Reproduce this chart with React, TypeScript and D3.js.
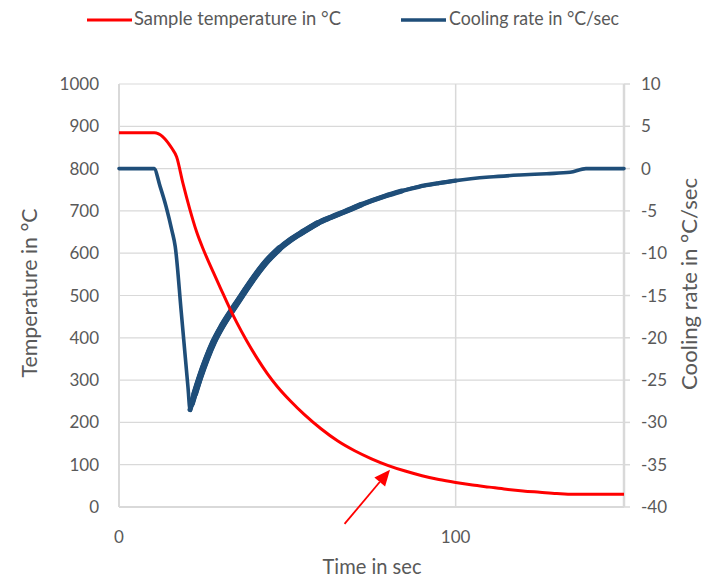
import React from "react";
import * as d3 from "d3";

// ---- data ----
const tempTime = [0, 10.5, 15.7, 17.1, 19, 21, 23, 25, 28, 30, 33, 35, 38, 41, 44, 47, 51, 55, 60, 65, 70, 75, 80, 85, 90, 95, 100, 105, 110, 115, 120, 125, 130, 135, 150];
const tempValues = [885, 885, 848, 828, 765, 705, 652, 610, 555, 520, 468, 436, 392, 352, 316, 285, 250, 219, 185, 156, 133, 114, 98, 85, 74, 65, 58, 52, 47, 42, 38, 35, 32, 30, 30];

const rateTime = [0, 10.4, 12.2, 14, 15.7, 16.7, 18.5, 20.5, 21.1, 21.6, 22.5, 24.1, 26, 28.1, 30.5, 33, 35.5, 38, 41, 44, 47.5, 51, 55, 59, 63, 67, 72, 79, 84, 89, 95, 100, 110, 119, 127, 134, 138.7, 150];
const rateValues = [0, 0, -2.1, -4.5, -7.3, -9.2, -17, -25.9, -28.5, -27.8, -26.6, -24.6, -22.5, -20.5, -18.7, -17.1, -15.6, -14.1, -12.4, -10.9, -9.5, -8.4, -7.4, -6.45, -5.75, -5.1, -4.25, -3.25, -2.65, -2.15, -1.72, -1.42, -1.0, -0.76, -0.6, -0.44, 0, 0];

const tempTicks = [0, 100, 200, 300, 400, 500, 600, 700, 800, 900, 1000];
const rateTicks = [-40, -35, -30, -25, -20, -15, -10, -5, 0, 5, 10];
const timeTicks = [0, 100];

const seriesNames = ["Sample temperature in °C", "Cooling rate in °C/sec"];
const axisTitles = { x: "Time in sec", yLeft: "Temperature in °C", yRight: "Cooling rate in °C/sec" };

// annotation arrow in data units (time, temperature)
const arrowFrom = [67, -40];
const arrowTo = [80.5, 88];

const RED = "#ff0000";
const BLUE = "#1f4e79";
const GRID = "#d9d9d9";
const TEXT = "#595959";
const FONT = "Lato, 'Open Sans', sans-serif";

// stroke thickness bands of the cooling-rate line (time from, time to, width)
const rateBands: [number, number, number][] = [
  [21.1, 100, 4.3],
  [21.1, 85, 5],
  [21.3, 72, 5.6],
  [21.6, 60, 6.2],
  [22.5, 48, 6.8],
];

export default function App() {
  const W = 708, H = 577;
  const x = d3.scaleLinear().domain([0, 150]).range([119, 624]);
  const yL = d3.scaleLinear().domain([0, 1000]).range([507, 84]);
  const yR = d3.scaleLinear().domain([-40, 10]).range([507, 84]);

  const tempData = tempTime.map((t, i) => [t, tempValues[i]] as [number, number]);
  const rateData = rateTime.map((t, i) => [t, rateValues[i]] as [number, number]);

  const tempLine = d3.line<[number, number]>().x(d => x(d[0])).y(d => yL(d[1])).curve(d3.curveMonotoneX);
  const rateLine = d3.line<[number, number]>().x(d => x(d[0])).y(d => yR(d[1])).curve(d3.curveMonotoneX);

  const ax0 = x(arrowFrom[0]), ay0 = yL(arrowFrom[1]);
  const ax1 = x(arrowTo[0]), ay1 = yL(arrowTo[1]);
  const ang = Math.atan2(ay1 - ay0, ax1 - ax0);
  const hl = 16, hw = 7;
  const bx = ax1 - hl * Math.cos(ang), by = ay1 - hl * Math.sin(ang);
  const head = [
    [ax1, ay1],
    [bx + hw * Math.sin(ang), by - hw * Math.cos(ang)],
    [bx - hw * Math.sin(ang), by + hw * Math.cos(ang)],
  ];

  return (
    <svg width={W} height={H} style={{ position: "absolute", left: 0, top: 0, background: "#fff" }} fontFamily={FONT}>
      <rect width={W} height={H} fill="#fff" />
      {/* horizontal gridlines */}
      {tempTicks.map(v => (
        <line key={"g" + v} x1={x(0)} x2={x(150)} y1={yL(v)} y2={yL(v)} stroke={GRID} strokeWidth={1.2} />
      ))}
      {/* vertical gridlines */}
      {timeTicks.filter(v => v > 0).map(v => (
        <line key={"vg" + v} x1={x(v)} x2={x(v)} y1={yL(1000)} y2={yL(0)} stroke={GRID} strokeWidth={1.5} />
      ))}
      {/* axes lines */}
      <line x1={x(0)} x2={x(0)} y1={yL(1000)} y2={yL(0)} stroke={GRID} strokeWidth={2} />
      <line x1={x(0)} x2={x(150)} y1={yL(0)} y2={yL(0)} stroke={GRID} strokeWidth={2} />
      <line x1={x(150)} x2={x(150)} y1={yR(10)} y2={yR(-40)} stroke={GRID} strokeWidth={2.5} />
      {rateTicks.map(v => (
        <line key={"rt" + v} x1={x(150)} x2={x(150) + 6} y1={yR(v)} y2={yR(v)} stroke={GRID} strokeWidth={1.5} />
      ))}

      {/* left tick labels */}
      {tempTicks.map(v => (
        <text key={"lt" + v} x={99} y={yL(v) + 6} textAnchor="end" fontSize={17} fill={TEXT}>{v}</text>
      ))}
      {/* right tick labels */}
      {rateTicks.map(v => (
        <text key={"rl" + v} x={641} y={yR(v) + 6} textAnchor="start" fontSize={17} fill={TEXT}>{v}</text>
      ))}
      {/* x tick labels */}
      {timeTicks.map(v => (
        <text key={"xt" + v} x={x(v)} y={543} textAnchor="middle" fontSize={17} fill={TEXT}>{v}</text>
      ))}

      {/* axis titles */}
      <text x={372} y={574} textAnchor="middle" fontSize={21} fill={TEXT} textLength={99} lengthAdjust="spacingAndGlyphs">{axisTitles.x}</text>
      <text transform={`translate(37,293) rotate(-90)`} textAnchor="middle" fontSize={21} fill={TEXT} textLength={169} lengthAdjust="spacingAndGlyphs">{axisTitles.yLeft}</text>
      <text transform={`translate(697,284) rotate(-90)`} textAnchor="middle" fontSize={21.5} fill={TEXT} textLength={212} lengthAdjust="spacingAndGlyphs">{axisTitles.yRight}</text>

      {/* series */}
      <path d={rateLine(rateData) || ""} fill="none" stroke={BLUE} strokeWidth={3.6} strokeLinejoin="round" strokeLinecap="round" />
      {rateBands.map(([a, b, w], i) => (
        <path key={"band" + i} d={rateLine(rateData.filter(d => d[0] >= a && d[0] <= b)) || ""} fill="none" stroke={BLUE} strokeWidth={w} strokeLinejoin="round" strokeLinecap="round" />
      ))}
      <path d={tempLine(tempData) || ""} fill="none" stroke={RED} strokeWidth={3} strokeLinejoin="round" />

      {/* arrow annotation */}
      <line x1={ax0} y1={ay0} x2={bx} y2={by} stroke={RED} strokeWidth={1.8} />
      <polygon points={head.map(p => p.join(",")).join(" ")} fill={RED} />

      {/* legend */}
      <line x1={87} x2={132} y1={20} y2={20} stroke={RED} strokeWidth={3} />
      <text x={134} y={25} fontSize={18.5} fill={TEXT} textLength={207} lengthAdjust="spacingAndGlyphs">{seriesNames[0]}</text>
      <line x1={401} x2={446} y1={20} y2={20} stroke={BLUE} strokeWidth={3.5} />
      <text x={449} y={25} fontSize={18.5} fill={TEXT} textLength={170} lengthAdjust="spacingAndGlyphs">{seriesNames[1]}</text>
    </svg>
  );
}
